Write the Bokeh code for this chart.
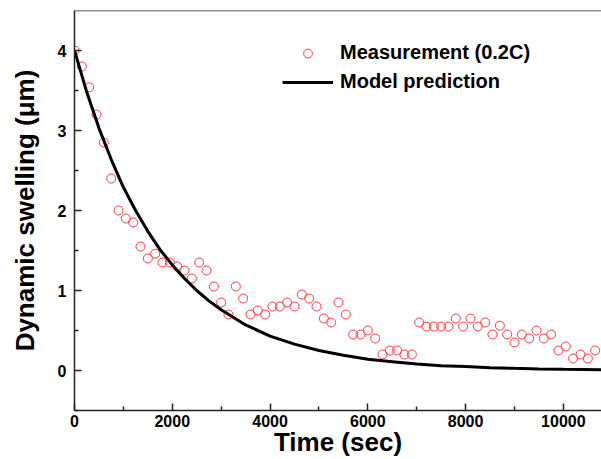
from bokeh.plotting import figure
from bokeh.models import Range1d, Span, Legend, LegendItem, FixedTicker
from bokeh.embed import file_html
from bokeh.resources import INLINE

# Measurement (0.2C)
meas_time = [0, 150, 300, 450, 600, 750, 900, 1050, 1200, 1350, 1500, 1650,
             1800, 1950, 2100, 2250, 2400, 2550, 2700, 2850, 3000, 3150, 3300,
             3450, 3600, 3750, 3900, 4050, 4200, 4350, 4500, 4650, 4800, 4950,
             5100, 5250, 5400, 5550, 5700, 5850, 6000, 6150, 6300, 6450, 6600,
             6750, 6900, 7050, 7200, 7350, 7500, 7650, 7800, 7950, 8100, 8250,
             8400, 8550, 8700, 8850, 9000, 9150, 9300, 9450, 9600, 9750, 9900,
             10050, 10200, 10350, 10500, 10650]
meas_swell = [4.00, 3.80, 3.54, 3.20, 2.85, 2.40, 2.00, 1.90, 1.85, 1.55, 1.40, 1.46,
              1.35, 1.35, 1.30, 1.25, 1.15, 1.35, 1.25, 1.05, 0.85, 0.70, 1.05,
              0.90, 0.70, 0.75, 0.70, 0.80, 0.80, 0.85, 0.80, 0.95, 0.90, 0.80,
              0.65, 0.60, 0.85, 0.70, 0.45, 0.45, 0.50, 0.40, 0.20, 0.25, 0.25,
              0.20, 0.20, 0.60, 0.55, 0.55, 0.55, 0.55, 0.65, 0.55, 0.65, 0.55,
              0.60, 0.45, 0.56, 0.45, 0.35, 0.45, 0.40, 0.50, 0.40, 0.45, 0.25,
              0.30, 0.15, 0.20, 0.15, 0.25]

# Model prediction
model_time = [0, 250, 500, 750, 1000, 1250, 1500, 1750, 2000, 2250, 2500, 2750,
              3000, 3500, 4000, 4500, 5000, 5500, 6000, 6500, 7000, 7500, 8000,
              8500, 9000, 9500, 10000, 10800]
model_swell = [4.00, 3.48, 3.03, 2.64, 2.29, 2.00, 1.74, 1.51, 1.32, 1.15, 1.00, 0.87,
               0.76, 0.57, 0.43, 0.33, 0.25, 0.19, 0.14, 0.11, 0.08, 0.06, 0.05,
               0.035, 0.027, 0.02, 0.015, 0.01]

x_ticks = [0, 2000, 4000, 6000, 8000, 10000]
x_minor = [1000, 3000, 5000, 7000, 9000]
y_ticks = [0, 1, 2, 3, 4]
y_minor = [-0.5, 0.5, 1.5, 2.5, 3.5]

FONT = "Liberation Sans"
RED = "#ff3b3b"

p = figure(width=601, height=459, output_backend="svg", toolbar_location=None,
           x_range=Range1d(0, 10780), y_range=Range1d(-0.5, 4.5),
           min_border_left=74, min_border_right=0, min_border_top=10,
           min_border_bottom=49)
p.background_fill_color = "white"
p.border_fill_color = "white"
p.outline_line_color = None
p.grid.visible = False

meas = p.scatter(meas_time, meas_swell, marker="circle", size=9,
                 fill_color=None, line_color=RED, line_width=1)
model = p.line(model_time, model_swell, line_color="black", line_width=3)
# smaller marker used only for the legend entry (its point lies off the frame)
meas_key = p.scatter([-5000], [-5], marker="circle", size=6, fill_color=None,
                     line_color=RED, line_width=1)

top = Span(location=4.5, dimension="width", line_color="#222222", line_width=1.5)
p.add_layout(top)

for ax in (p.xaxis[0], p.yaxis[0]):
    ax.axis_line_color = "#222222"
    ax.axis_line_width = 1.5
    ax.major_tick_in = 7
    ax.major_tick_out = 0
    ax.minor_tick_in = 4
    ax.minor_tick_out = 0
    ax.major_tick_line_color = "#222222"
    ax.minor_tick_line_color = "#222222"
    ax.major_tick_line_width = 1.5
    ax.minor_tick_line_width = 1.5
    ax.major_label_text_font = FONT
    ax.major_label_text_font_style = "bold"
    ax.major_label_text_font_size = "16px"
    ax.major_label_text_color = "black"
    ax.axis_label_text_font = FONT
    ax.axis_label_text_font_style = "bold"
    ax.axis_label_text_font_size = "26px"
    ax.axis_label_text_color = "black"

p.xaxis.ticker = FixedTicker(ticks=x_ticks, minor_ticks=x_minor)
p.yaxis.ticker = FixedTicker(ticks=y_ticks, minor_ticks=y_minor)
p.xaxis.axis_label = "Time (sec)"
p.yaxis.axis_label = "Dynamic swelling (\u03bcm)"
p.xaxis.major_label_standoff = 4
p.xaxis.axis_label_standoff = -3
p.yaxis.major_label_standoff = 8
p.yaxis.axis_label_standoff = 15

legend = Legend(items=[LegendItem(label="Measurement (0.2C)", renderers=[meas_key]),
                       LegendItem(label="Model prediction", renderers=[model])],
                location=(208, 317), border_line_color=None,
                background_fill_alpha=0, padding=0, margin=0, spacing=6,
                glyph_width=51, glyph_height=22, label_height=22,
                label_standoff=7, label_text_font=FONT,
                label_text_font_style="bold", label_text_font_size="20px",
                label_text_color="black")
p.add_layout(legend)

open("out.html", "w").write(file_html(p, INLINE))
